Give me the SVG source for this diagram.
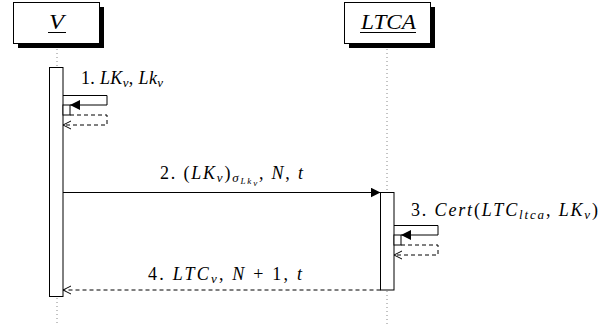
<svg xmlns="http://www.w3.org/2000/svg" width="613" height="324" viewBox="0 0 613 324">
<style>
.shadow{fill:#000}
.box{fill:#fff;stroke:#000;stroke-width:1}
.life{stroke:#888;stroke-width:1;stroke-dasharray:1,3;fill:none}
.bar{fill:#fff;stroke:#000;stroke-width:1}
.msg{stroke:#000;stroke-width:1;fill:none}
.ret{stroke:#000;stroke-width:1;fill:none;stroke-dasharray:4,3}
.lbl{font-family:"Liberation Serif",serif;font-size:18px;fill:#000}
.hd{font-family:"Liberation Serif",serif;font-size:21px;font-style:italic;fill:#000}
.i{font-style:italic}
.s{font-size:13px;font-style:italic}
.ss{font-size:9px;font-style:italic}
</style>
<defs>
<marker id="fill" viewBox="0 0 10 10" refX="10" refY="5" markerWidth="10" markerHeight="10" markerUnits="userSpaceOnUse" orient="auto">
<path d="M0,0 L10,5 L0,10 Z" fill="#000"/>
</marker>
<marker id="open" viewBox="0 0 8 10" refX="8" refY="5" markerWidth="8" markerHeight="10" markerUnits="userSpaceOnUse" orient="auto">
<path d="M0,1 L8,5 L0,9" fill="none" stroke="#000" stroke-width="1"/>
</marker>
</defs>

<g id="node-V">
<rect class="shadow" x="18" y="7" width="86" height="41"/>
<rect class="box" x="13.5" y="2.5" width="86" height="41"/>
<text class="hd" x="49" y="29" textLength="15" lengthAdjust="spacingAndGlyphs">V</text>
<line x1="48" y1="32.5" x2="66" y2="32.5" stroke="#000" stroke-width="1"/>
<line class="life" x1="57" y1="49" x2="57" y2="67"/>
<line class="life" x1="57" y1="298" x2="57" y2="324"/>
<rect class="bar" x="49.5" y="67.5" width="13.5" height="229"/>
<rect class="bar" x="63" y="105" width="7" height="10"/>
</g>

<g id="node-LTCA">
<rect class="shadow" x="349" y="7" width="86" height="41"/>
<rect class="box" x="344.5" y="2.5" width="86" height="41"/>
<text class="hd" x="361" y="29" textLength="55" lengthAdjust="spacingAndGlyphs">LTCA</text>
<line x1="360" y1="32.5" x2="416" y2="32.5" stroke="#000" stroke-width="1"/>
<line class="life" x1="387" y1="49" x2="387" y2="192"/>
<line class="life" x1="387" y1="291" x2="387" y2="324"/>
<rect class="bar" x="380.5" y="192.5" width="13.5" height="97.5"/>
<rect class="bar" x="394" y="235" width="7" height="10"/>
</g>

<g id="connectors">
<path class="msg" d="M63,95.5 H107 V105 H70" marker-end="url(#fill)"/>
<path class="ret" d="M70,115 H107 V125 H63" marker-end="url(#open)"/>
<line class="msg" x1="63" y1="192.5" x2="380.5" y2="192.5" marker-end="url(#fill)"/>
<path class="msg" d="M394,225.5 H438 V235 H401" marker-end="url(#fill)"/>
<path class="ret" d="M401,245 H438 V255 H394" marker-end="url(#open)"/>
<line class="ret" x1="380.5" y1="290" x2="63" y2="290" marker-end="url(#open)"/>
</g>

<g id="labels">
<text class="lbl" x="81" y="84" textLength="82" lengthAdjust="spacing">1. <tspan class="i">LK</tspan><tspan class="s" dy="3">v</tspan><tspan dy="-3">, </tspan><tspan class="i">Lk</tspan><tspan class="s" dy="3">v</tspan></text>
<text class="lbl" x="160" y="179" textLength="143" lengthAdjust="spacing">2. (<tspan class="i">LK</tspan><tspan class="s" dy="3">v</tspan><tspan dy="-3">)</tspan><tspan class="s" dy="3">σ</tspan><tspan class="ss" dy="2">Lk</tspan><tspan class="ss" dy="2">v</tspan><tspan dy="-7">, </tspan><tspan class="i">N</tspan>, <tspan class="i">t</tspan></text>
<text class="lbl" x="411" y="216" textLength="187" lengthAdjust="spacing">3. <tspan class="i">Cert</tspan>(<tspan class="i">LTC</tspan><tspan class="s" dy="3">ltca</tspan><tspan dy="-3">, </tspan><tspan class="i">LK</tspan><tspan class="s" dy="3">v</tspan><tspan dy="-3">)</tspan></text>
<text class="lbl" x="148" y="280" textLength="154" lengthAdjust="spacing">4. <tspan class="i">LTC</tspan><tspan class="s" dy="3">v</tspan><tspan dy="-3">, </tspan><tspan class="i">N</tspan> + 1, <tspan class="i">t</tspan></text>
</g>
</svg>
